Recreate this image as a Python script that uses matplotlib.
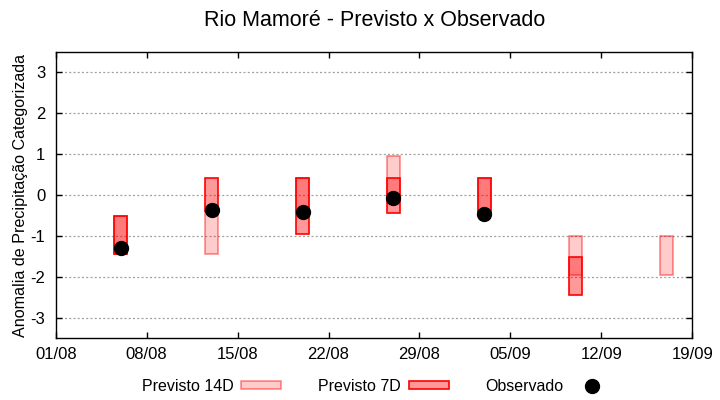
import matplotlib
matplotlib.use("Agg")
import matplotlib.pyplot as plt
import matplotlib.dates as mdates
from matplotlib.patches import Rectangle
from matplotlib.lines import Line2D
import numpy as np
import pandas as pd

plt.rcParams['font.family'] = ['Liberation Sans', 'DejaVu Sans']
plt.rcParams['axes.unicode_minus'] = False

# ---- data ----
dates = ["2023-08-06", "2023-08-13", "2023-08-20", "2023-08-27",
         "2023-09-03", "2023-09-10", "2023-09-17"]
p14_low = [-1.45, -1.45, -0.41, -0.07, -0.46, -1.96, -1.96]
p14_high = [-0.50, -0.38, 0.43, 0.95, 0.43, -1.00, -1.00]
p7_low = [-1.45, -0.38, -0.95, -0.44, -0.46, -2.45, np.nan]
p7_high = [-0.50, 0.43, 0.43, 0.43, 0.43, -1.52, np.nan]
observed = [-1.29, -0.37, -0.41, -0.07, -0.46, np.nan, np.nan]
tick_dates = ["2023-08-01", "2023-08-08", "2023-08-15", "2023-08-22",
              "2023-08-29", "2023-09-05", "2023-09-12", "2023-09-19"]
yticks = [-3, -2, -1, 0, 1, 2, 3]

title = "Rio Mamoré - Previsto x Observado"
ylabel = "Anomalia de Precipitação Categorizada"
labels = ["Previsto 14D", "Previsto 7D", "Observado"]

# ---- plot ----
d = pd.to_datetime(dates)
td = pd.to_datetime(tick_dates)
p14_low = np.array(p14_low); p14_high = np.array(p14_high)
p7_low = np.array(p7_low); p7_high = np.array(p7_high)

fig = plt.figure(figsize=(7.2, 4.0), dpi=100)
ax = fig.add_axes([0.0774, 0.1542, 0.8841, 0.7158])

c14_face = (1, 0, 0, 0.2)
c14_edge = (1, 0, 0, 0.45)
c7_face = (1, 0, 0, 0.4)
c7_edge = (1, 0, 0, 1.0)

ax.bar(d, p14_high - p14_low, bottom=p14_low, width=0.98,
       facecolor=c14_face, edgecolor=c14_edge, linewidth=1.2, zorder=3)
m7 = ~np.isnan(p7_low)
ax.bar(d[m7], (p7_high - p7_low)[m7], bottom=p7_low[m7], width=0.98,
       facecolor=c7_face, edgecolor=c7_edge, linewidth=1.2, zorder=4)
ax.plot(d, observed, 'o', color='black', markersize=10, zorder=5)

ax.set_xlim(td[0], td[-1])
ax.set_ylim(-3.5, 3.5)
ax.set_xticks(td)
ax.xaxis.set_major_formatter(mdates.DateFormatter('%d/%m'))
ax.set_yticks(yticks)
ax.yaxis.grid(True, color='#a0a0a0', linestyle=(0, (1.6, 1.8)), linewidth=0.9, zorder=0)
ax.set_axisbelow(True)
ax.tick_params(axis='both', direction='in', length=4, width=1, labelsize=12,
               colors='black', top=True, right=True)
ax.tick_params(axis='y', pad=7.5)
ax.tick_params(axis='x', pad=6)
for s in ax.spines.values():
    s.set_linewidth(1.0)

ax.set_ylabel(ylabel, fontsize=11.6, labelpad=2)
fig.text(0.52, 0.948, title, ha='center', va='center', fontsize=15.5)

handles = [
    Rectangle((0, 0), 1, 1, facecolor=c14_face, edgecolor=c14_edge, linewidth=1.2),
    Rectangle((0, 0), 1, 1, facecolor=c7_face, edgecolor=c7_edge, linewidth=1.2),
    Line2D([], [], marker='o', linestyle='none', color='black', markersize=10),
]
fig.legend(handles, labels, loc='center', bbox_to_anchor=(0.523, 0.034),
           ncol=3, frameon=False, markerfirst=False, fontsize=11.5,
           handlelength=2.5, handleheight=0.38, handletextpad=0.5,
           columnspacing=2.3)

fig.savefig("out.png", dpi=100)
